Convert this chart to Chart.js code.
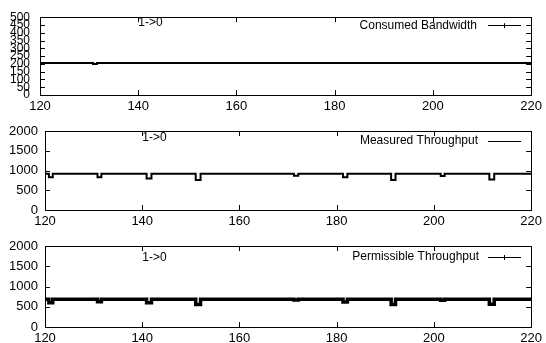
<!DOCTYPE html>
<html><head><meta charset="utf-8">
<script src="https://cdn.jsdelivr.net/npm/chart.js@4"></script>
<style>
html,body{margin:0;padding:0;background:#fff;}
#wrap{position:relative;width:546px;height:343px;}
canvas{position:absolute;left:0;}
</style></head><body>
<div id="wrap">
<canvas id="c1" width="546" height="114" style="top:0px"></canvas>
<canvas id="c2" width="546" height="116" style="top:114px"></canvas>
<canvas id="c3" width="546" height="113" style="top:230px"></canvas>
</div>
<script>
// X-axis range & ticks
const xMin = 120, xMax = 220, xStep = 20;

// Consumed Bandwidth (panel 1)
const consumedTimes  = [120, 130.8, 131.6, 220];
const consumedValues = [205, 200, 205, 205];

// Measured Throughput (panel 2)
const measuredTimes  = [120, 120.8, 121.6, 130.8, 131.6, 140.9, 141.9, 151, 152, 171.2, 172.1, 181.3, 182.2, 191.2, 192.1, 201.4, 202.2, 211.4, 212.4, 220];
const measuredValues = [915, 830,   915,   830,   915,   800,   915,   760, 915, 870,   915,   830,   915,   760,   915,   860,   915,   775,   915,   915];

// Permissible Throughput (panel 3)
const permTimes  = [120, 120.8, 121.6, 130.8, 131.6, 140.9, 141.9, 151, 152, 171.2, 172.1, 181.3, 182.2, 191.2, 192.1, 201.4, 202.2, 211.4, 212.4, 220];
const permValues = [685, 600,   685,   625,   685,   600,   685,   555, 685, 665,   685,   620,   685,   555,   685,   660,   685,   560,   685,   685];

// Labels
const legendTexts = ["Consumed Bandwidth", "Measured Throughput", "Permissible Throughput"];
const noteText = "1->0";

const FONT = "'Liberation Sans', Arial, Helvetica, sans-serif";

const frame = {
  id: 'gframe',
  afterDraw(chart, args, o) {
    const {ctx, chartArea: a, scales: {x, y}} = chart;
    ctx.save();
    ctx.strokeStyle = '#000';
    ctx.lineWidth = 1;
    ctx.beginPath();
    x.ticks.forEach(t => {
      const px = Math.round(x.getPixelForValue(t.value)) + 0.5;
      ctx.moveTo(px, a.bottom); ctx.lineTo(px, a.bottom - 5);
      ctx.moveTo(px, a.top); ctx.lineTo(px, a.top + 5);
    });
    y.ticks.forEach(t => {
      const py = Math.round(y.getPixelForValue(t.value)) + 0.5;
      ctx.moveTo(a.left, py); ctx.lineTo(a.left + 5, py);
      ctx.moveTo(a.right, py); ctx.lineTo(a.right - 5, py);
    });
    ctx.stroke();
    // note label
    ctx.fillStyle = '#000';
    ctx.font = o.noteSize + 'px ' + FONT;
    ctx.textBaseline = 'middle';
    ctx.textAlign = 'left';
    ctx.fillText(noteText, x.getPixelForValue(140), y.getPixelForValue(o.noteY));
    // legend
    ctx.font = '12px ' + FONT;
    ctx.textAlign = 'right';
    const ly = a.top + o.legendDy;
    ctx.fillText(o.legend, o.legendX, ly);
    ctx.beginPath();
    ctx.moveTo(488, Math.round(ly) + 0.5); ctx.lineTo(521, Math.round(ly) + 0.5);
    if (o.tick) { ctx.moveTo(504.5, ly - 2); ctx.lineTo(504.5, ly + 3); }
    ctx.stroke();
    ctx.restore();
  }
};

function makeChart(id, times, values, yMax, yStep, lw, area, yFont, yPad, opts) {
  const H = document.getElementById(id).height;
  return new Chart(document.getElementById(id), {
    type: 'line',
    data: {datasets: [{
      data: times.map((t, i) => ({x: t, y: values[i]})),
      stepped: 'before', borderColor: '#000', borderWidth: lw,
      pointRadius: 0, fill: false, tension: 0
    }]},
    options: {
      responsive: false, animation: false, devicePixelRatio: 1,
      layout: {padding: 0},
      plugins: {legend: {display: false}, tooltip: {enabled: false}, gframe: opts},
      scales: {
        x: {type: 'linear', position: 'bottom', min: xMin, max: xMax,
            ticks: {stepSize: xStep, color: '#000', font: {family: FONT, size: 13}, padding: 4, maxRotation: 0,
                    callback: v => String(v)},
            grid: {display: false, drawTicks: false}, border: {display: true, color: '#000'},
            afterFit(s) { s.height = H - area.bottom; }},
        x2: {type: 'linear', position: 'top', min: xMin, max: xMax,
            ticks: {display: false}, grid: {display: false, drawTicks: false},
            border: {display: true, color: '#000'},
            afterFit(s) { s.height = area.top; }},
        y: {type: 'linear', position: 'left', min: 0, max: yMax,
            ticks: {stepSize: yStep, autoSkip: false, color: '#000', font: {family: FONT, size: yFont}, padding: yPad,
                    callback: v => String(v)},
            grid: {display: false, drawTicks: false}, border: {display: true, color: '#000'},
            afterFit(s) { s.width = area.left; }},
        y2: {type: 'linear', position: 'right', min: 0, max: yMax,
            ticks: {display: false}, grid: {display: false, drawTicks: false},
            border: {display: true, color: '#000'},
            afterFit(s) { s.width = 546 - area.right; }}
      }
    },
    plugins: [frame]
  });
}

makeChart('c1', consumedTimes, consumedValues, 500, 50, 2, {left: 40, right: 535, top: 14, bottom: 95}, 12, 10,
  {legend: legendTexts[0], legendX: 477, legendDy: 8, tick: true, noteY: 465, noteSize: 12});
makeChart('c2', measuredTimes, measuredValues, 2000, 500, 2, {left: 45, right: 535, top: 17, bottom: 96}, 13, 7,
  {legend: legendTexts[1], legendX: 478, legendDy: 10, tick: false, noteY: 1820, noteSize: 12});
makeChart('c3', permTimes, permValues, 2000, 500, 3.5, {left: 45, right: 535, top: 16, bottom: 97}, 13, 7,
  {legend: legendTexts[2], legendX: 479, legendDy: 11, tick: true, noteY: 1700, noteSize: 12});
</script>
</body></html>
